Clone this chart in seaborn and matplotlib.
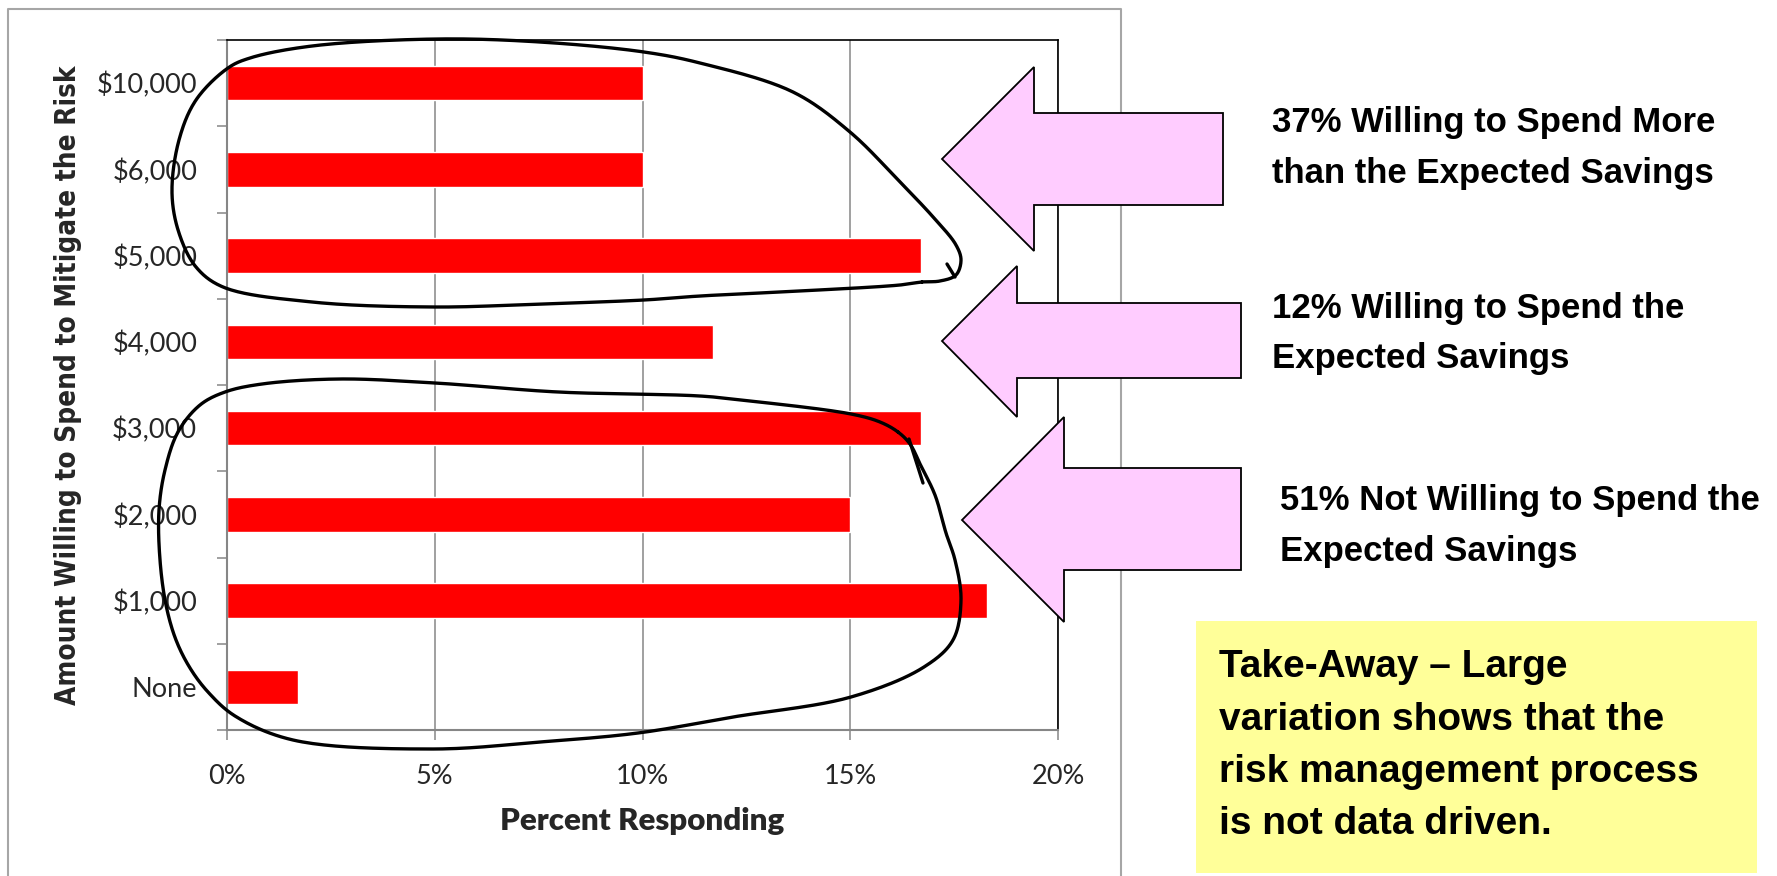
import numpy as np
import pandas as pd
import matplotlib
matplotlib.use("Agg")
import matplotlib.pyplot as plt
import seaborn as sns
from matplotlib.lines import Line2D
from matplotlib.patches import Polygon, Rectangle
from matplotlib import font_manager as fm

# ---- data -------------------------------------------------------------
categories = ["$10,000", "$6,000", "$5,000", "$4,000", "$3,000", "$2,000", "$1,000", "None"]
percent = [10.0, 10.0, 16.7, 11.7, 16.7, 15.0, 18.3, 1.7]
x_ticks = [0, 5, 10, 15, 20]
x_tick_labels = ["0%", "5%", "10%", "15%", "20%"]

group_notes = [
    ["37% Willing to Spend More", "than the Expected Savings"],
    ["12% Willing to Spend the", "Expected Savings"],
    ["51% Not Willing to Spend the", "Expected Savings"],
]
takeaway_lines = [
    "Take-Away \u2013 Large",
    "variation shows that the",
    "risk management process",
    "is not data driven.",
]

# ---- canvas helpers (pixel positions measured from the top-left corner) -
W, H = 1777, 876


def fx(x):
    return x / W


def fy(y):
    return 1 - y / H


def to_fig(points):
    return [(fx(x), fy(y)) for x, y in points]


def closed_spline(points, n=24):
    """Centripetal Catmull-Rom curve through the given points (closed)."""
    pts = np.asarray(points, float)
    N = len(pts)
    out = []
    for i in range(N):
        p0, p1, p2, p3 = pts[(i - 1) % N], pts[i], pts[(i + 1) % N], pts[(i + 2) % N]
        t0 = 0.0
        t1 = t0 + np.linalg.norm(p1 - p0) ** 0.5
        t2 = t1 + np.linalg.norm(p2 - p1) ** 0.5
        t3 = t2 + np.linalg.norm(p3 - p2) ** 0.5
        t = np.linspace(t1, t2, n, endpoint=False)[:, None]
        a1 = (t1 - t) / (t1 - t0) * p0 + (t - t0) / (t1 - t0) * p1
        a2 = (t2 - t) / (t2 - t1) * p1 + (t - t1) / (t2 - t1) * p2
        a3 = (t3 - t) / (t3 - t2) * p2 + (t - t2) / (t3 - t2) * p3
        b1 = (t2 - t) / (t2 - t0) * a1 + (t - t0) / (t2 - t0) * a2
        b2 = (t3 - t) / (t3 - t1) * a2 + (t - t1) / (t3 - t1) * a3
        out.append((t2 - t) / (t2 - t1) * b1 + (t - t1) / (t2 - t1) * b2)
    out.append(out[0][:1])
    return np.vstack(out)


def font_available(name):
    try:
        fm.findfont(fm.FontProperties(family=name), fallback_to_default=False)
        return True
    except Exception:
        return False


# ---- style --------------------------------------------------------------
sns.set_theme(style="white")
tick_font = "Lato" if font_available("Lato") else "DejaVu Sans"
plt.rcParams["font.family"] = [tick_font, "DejaVu Sans"]

# condensed bold face for the callouts
if font_available("Liberation Sans Narrow"):
    note_family, note_size, box_size = "Liberation Sans Narrow", 30.5, 34
else:
    note_family, note_size, box_size = "Liberation Sans", 25, 28
note_family = [note_family, "DejaVu Sans"]

ylab_props = fm.FontProperties(family="DejaVu Sans", weight="bold", stretch="condensed")
condensed = "Condensed" in fm.findfont(ylab_props)
ylab_props.set_size(20 if condensed else 18)

GRID = "#868686"
FRAME = "#A6A6A6"

fig = plt.figure(figsize=(W / 100, H / 100), dpi=100)
fig.patch.set_facecolor("white")

# chart frame
fig.add_artist(Line2D([fx(8), fx(8), fx(1121), fx(1121)], [fy(880), fy(9), fy(9), fy(880)],
                      color=FRAME, lw=1.5, transform=fig.transFigure, zorder=1.5))

ax = fig.add_axes([fx(227), fy(730), (1058 - 227) / W, (730 - 40) / H])
df = pd.DataFrame({"amount": categories, "percent": percent})
sns.barplot(data=df, x="percent", y="amount", orient="h", color="#FF0000",
            saturation=1, width=0.4, ax=ax)

ax.set_xlim(0, 20)
ax.set_ylim(len(categories) - 0.5, -0.5)
ax.set_xticks(x_ticks)
ax.set_xticklabels(x_tick_labels)
ax.set_yticks(range(len(categories)))
ax.set_yticklabels(categories)
ax.set_yticks(np.arange(-0.5, len(categories)), minor=True)

ax.tick_params(axis="y", which="major", length=0, pad=21.5, labelsize=19.5, left=False)
ax.tick_params(axis="y", which="minor", length=7.2, width=1.1, color=GRID,
               direction="out", left=True)
ax.tick_params(axis="x", which="major", length=7.2, width=1.1, color=GRID,
               direction="out", pad=17, labelsize=19.5, bottom=True)
ax.grid(axis="x", color=GRID, lw=1.1)
ax.grid(axis="y", visible=False)
ax.set_axisbelow(True)

for side in ("left", "bottom"):
    ax.spines[side].set_color(GRID)
    ax.spines[side].set_linewidth(1.5)
for side in ("top", "right"):
    ax.spines[side].set_color("black")
    ax.spines[side].set_linewidth(1.2)
    ax.spines[side].set_visible(True)

ax.set_xlabel("Percent Responding", fontsize=22.5, fontweight="heavy", va="baseline")
ax.xaxis.set_label_coords(0.5, (730 - 830) / 690)
ax.set_ylabel("Amount Willing to Spend to Mitigate the Risk", fontproperties=ylab_props,
              va="center")
ax.yaxis.set_label_coords((68 - 227) / 831, 0.5)

# ---- block arrows ------------------------------------------------------
arrows = [
    dict(tip=(942, 159), head_x=1034, head=(67, 251), shaft=(113, 205), end=1223),
    dict(tip=(942, 341), head_x=1017, head=(266, 417), shaft=(303, 378), end=1241),
    dict(tip=(962, 520), head_x=1064, head=(417, 622), shaft=(468, 570), end=1241),
]
for a in arrows:
    tx, ty = a["tip"]
    hx = a["head_x"]
    pts = [(tx, ty), (hx, a["head"][0]), (hx, a["shaft"][0]), (a["end"], a["shaft"][0]),
           (a["end"], a["shaft"][1]), (hx, a["shaft"][1]), (hx, a["head"][1])]
    fig.add_artist(Polygon(to_fig(pts), closed=True, facecolor="#FFCCFF", edgecolor="black",
                           lw=1.3, transform=fig.transFigure, zorder=3))

# ---- hand-drawn grouping loops ------------------------------------------
upper_loop = [(922, 282), (900, 285), (800, 291), (700, 296), (644, 300), (540, 304),
              (435, 307), (312, 302), (223, 287), (196, 267), (179, 233), (172, 193),
              (179, 140), (196, 100), (228, 68), (250, 58), (312, 46), (437, 39),
              (540, 42), (644, 52), (700, 63), (793, 92), (850, 132), (900, 182),
              (934, 218), (956, 245), (961, 260), (956, 275), (940, 281)]
lower_loop = [(898, 432), (880, 422), (851, 414), (741, 400), (700, 396), (558, 392),
              (435, 383), (339, 379), (262, 384), (225, 392), (200, 405), (178, 432),
              (165, 470), (159, 510), (160, 560), (166, 605), (176, 640), (190, 668),
              (208, 692), (235, 716), (293, 740), (433, 749), (540, 742), (638, 733),
              (733, 717), (851, 697), (924, 667), (953, 640), (961, 600), (955, 560),
              (946, 533), (935, 495), (921, 466), (910, 444)]
for loop in (upper_loop, lower_loop):
    curve = closed_spline(loop)
    fig.add_artist(Line2D(fx(curve[:, 0]), fy(curve[:, 1]), color="black", lw=2.4,
                          solid_capstyle="round", solid_joinstyle="round",
                          transform=fig.transFigure, zorder=4))
for (x0, y0), (x1, y1) in [((947, 264), (955, 277)), ((909, 439), (923, 483))]:
    fig.add_artist(Line2D([fx(x0), fx(x1)], [fy(y0), fy(y1)], color="black", lw=2.4,
                          solid_capstyle="round", transform=fig.transFigure, zorder=4))

# ---- notes ------------------------------------------------------------------
note_pos = [(1272, (132, 183)), (1272, (318, 368)), (1280, (510, 561))]
for lines, (x0, baselines) in zip(group_notes, note_pos):
    for line, yb in zip(lines, baselines):
        fig.text(fx(x0), fy(yb), line, family=note_family, fontweight="bold",
                 fontsize=note_size, va="baseline", ha="left", color="black", zorder=5)

fig.add_artist(Rectangle((fx(1196), fy(873)), (1757 - 1196) / W, (873 - 621) / H,
                         facecolor="#FFFF99", edgecolor="none",
                         transform=fig.transFigure, zorder=3))
for i, line in enumerate(takeaway_lines):
    fig.text(fx(1219), fy(677 + 52.5 * i), line, family=note_family, fontweight="bold",
             fontsize=box_size, va="baseline", ha="left", color="black", zorder=5)

fig.savefig("out.png", dpi=100, facecolor="white")
